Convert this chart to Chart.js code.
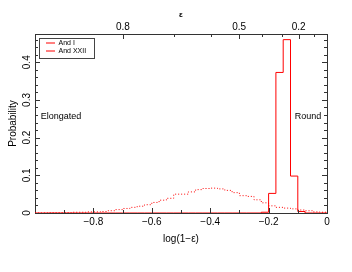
<!DOCTYPE html>
<html>
<head>
<meta charset="utf-8">
<script src="https://cdn.jsdelivr.net/npm/chart.js@4/dist/chart.umd.min.js"></script>
<style>
  html, body { margin: 0; padding: 0; background: #fff; }
  #wrap { width: 352px; height: 272px; }
</style>
</head>
<body>
<div id="wrap"><canvas id="ChartCanvas"></canvas></div>
<script>
// histogram bin edges, in log(1-e)
const binEdges = [-1, -0.975, -0.95, -0.925, -0.9, -0.875, -0.85, -0.825, -0.8, -0.775,
  -0.75, -0.725, -0.7, -0.675, -0.65, -0.625, -0.6, -0.575, -0.55, -0.525,
  -0.5, -0.475, -0.45, -0.425, -0.4, -0.375, -0.35, -0.325, -0.3, -0.275,
  -0.25, -0.225, -0.2, -0.175, -0.15, -0.125, -0.1, -0.075, -0.05, -0.025, 0]

// probability per bin
const andI = [0, 0, 0, 0, 0, 0, 0, 0, 0, 0,
  0, 0, 0, 0, 0, 0, 0, 0, 0, 0,
  0, 0, 0, 0, 0, 0, 0, 0, 0, 0,
  0, 0.002, 0.052, 0.373, 0.46, 0.098, 0.004, 0, 0, 0]
const andXXII = [0, 0, 0.001, 0.001, 0.001, 0.002, 0.002, 0.003, 0.003, 0.004,
  0.006, 0.009, 0.012, 0.015, 0.018, 0.022, 0.028, 0.034, 0.039, 0.05,
  0.05, 0.056, 0.062, 0.065, 0.066, 0.064, 0.06, 0.054, 0.046, 0.044,
  0.035, 0.027, 0.019, 0.015, 0.013, 0.011, 0.008, 0.006, 0.003, 0.002]

const seriesNames = ['And I', 'And XXII']

// axis ticks
const xMajor = [-0.8, -0.6, -0.4, -0.2, 0]
const xMinor = [-0.9, -0.7, -0.5, -0.3, -0.1]
const yMajor = [0, 0.1, 0.2, 0.3, 0.4]
const yMinor = [0.02, 0.04, 0.06, 0.08, 0.12, 0.14, 0.16, 0.18, 0.22, 0.24, 0.26, 0.28,
  0.32, 0.34, 0.36, 0.38, 0.42, 0.44, 0.46]
const epsMajor = [0.8, 0.5, 0.2]
const epsMinor = [0.9, 0.7, 0.6, 0.4, 0.3, 0.1]

const notes = [
  {text: 'Elongated', x: -0.98, y: 0.255, align: 'left'},
  {text: 'Round', x: -0.02, y: 0.255, align: 'right'}
]

const FONT = '"Liberation Sans", Arial, Helvetica, sans-serif'
Chart.defaults.font.family = FONT
Chart.defaults.color = '#000'

function steps(values) {
  const pts = values.map((v, i) => ({x: binEdges[i], y: v}))
  pts.push({x: binEdges[binEdges.length - 1], y: values[values.length - 1]})
  return pts
}

function fmt(v) {
  const s = String(Math.round(v * 100) / 100)
  return s.replace('-', '\u2212')
}

const epsPos = e => Math.log10(1 - e)

// inward tick marks on all four sides
const tickMarks = {
  id: 'tickMarks',
  afterDatasetsDraw(chart) {
    const {ctx, chartArea: a, scales} = chart
    ctx.save()
    ctx.strokeStyle = '#333'
    ctx.lineWidth = 1
    const line = (x1, y1, x2, y2) => { ctx.beginPath(); ctx.moveTo(x1, y1); ctx.lineTo(x2, y2); ctx.stroke() }
    xMajor.concat(xMinor).forEach(v => {
      const len = xMajor.includes(v) ? 5 : 3
      const px = Math.round(scales.x.getPixelForValue(v)) + 0.5
      line(px, a.bottom, px, a.bottom - len)
    })
    epsMajor.concat(epsMinor).forEach(e => {
      const len = epsMajor.includes(e) ? 5 : 3
      const px = Math.round(scales.x2.getPixelForValue(epsPos(e))) + 0.5
      line(px, a.top, px, a.top + len)
    })
    yMajor.concat(yMinor).forEach(v => {
      const len = yMajor.includes(v) ? 5 : 3
      const py = Math.round(scales.y.getPixelForValue(v)) + 0.5
      line(a.left, py, a.left + len, py)
      const py2 = Math.round(scales.y2.getPixelForValue(v)) + 0.5
      line(a.right, py2, a.right - len, py2)
    })
    ctx.restore()
  }
}

const annotations = {
  id: 'annotations',
  afterDatasetsDraw(chart) {
    const {ctx, scales: {x, y}} = chart
    ctx.save()
    ctx.font = '9px ' + FONT
    ctx.fillStyle = '#000'
    ctx.textBaseline = 'middle'
    notes.forEach(n => {
      ctx.textAlign = n.align
      ctx.fillText(n.text, x.getPixelForValue(n.x), y.getPixelForValue(n.y))
    })
    ctx.restore()
  }
}

// move legend into the top-left of the plot and frame it
const legendBox = {
  id: 'legendBox',
  afterLayout(chart) {
    const lg = chart.legend
    const a = chart.chartArea
    lg.left = a.left + 10
    lg.top = a.top + 4.5
    lg.right = a.right
    lg.bottom = a.bottom
  },
  afterDraw(chart) {
    const hb = chart.legend.legendHitBoxes
    if (!hb || !hb.length) return
    const l = Math.min(...hb.map(h => h.left)) - 7
    const r = Math.max(...hb.map(h => h.left + h.width)) + 8
    const t = Math.min(...hb.map(h => h.top)) - 1.5
    const b = Math.max(...hb.map(h => h.top + h.height)) + 3
    const ctx = chart.ctx
    ctx.save()
    ctx.strokeStyle = '#444'
    ctx.lineWidth = 1
    ctx.strokeRect(Math.round(l) + 0.5, Math.round(t) + 0.5, Math.round(r - l), Math.round(b - t))
    ctx.restore()
  }
}

let chart = null

function initChart() {
  const ctx = document.getElementById('ChartCanvas').getContext('2d')
  chart = new Chart(ctx, {
    type: 'line',
    data: {
      datasets: [{
        label: seriesNames[0],
        data: steps(andI),
        borderColor: 'rgb(255,0,0)',
        backgroundColor: 'rgb(255,0,0)',
        borderWidth: 1,
        pointRadius: 0,
        stepped: 'before',
        xAxisID: 'x', yAxisID: 'y'
      }, {
        label: seriesNames[1],
        data: steps(andXXII),
        borderColor: 'rgb(255,0,0)',
        backgroundColor: 'rgb(255,0,0)',
        borderWidth: 1,
        borderDash: [1, 2],
        pointRadius: 0,
        stepped: 'before',
        xAxisID: 'x', yAxisID: 'y'
      }]
    },
    options: {
      responsive: true,
      maintainAspectRatio: false,
      animation: false,
      events: [],
      layout: { padding: 0 },
      plugins: {
        tooltip: { enabled: false },
        legend: {
          position: 'chartArea',
          align: 'start',
          labels: {
            font: { size: 7 },
            color: '#000',
            usePointStyle: true,
            pointStyle: 'line',
            pointStyleWidth: 9,
            boxHeight: 7,
            padding: 1
          }
        }
      },
      scales: {
        x: {
          type: 'linear', position: 'bottom', min: -1, max: 0,
          afterBuildTicks: s => { s.ticks = xMajor.map(v => ({value: v})) },
          afterFit: s => { s.height = 59 },
          grid: { display: false, drawTicks: false },
          border: { display: true, color: '#333', width: 1 },
          ticks: { autoSkip: false, maxRotation: 0, padding: 3, font: { size: 10 }, callback: v => fmt(v) },
          title: { display: true, text: 'log(1\u2212\u03b5)', font: { size: 10 }, padding: { top: 0, bottom: 27 } }
        },
        x2: {
          type: 'linear', position: 'top', min: -1, max: 0,
          afterBuildTicks: s => { s.ticks = epsMajor.map(e => ({value: epsPos(e)})) },
          afterFit: s => { s.height = 34 },
          grid: { display: false, drawTicks: false },
          border: { display: true, color: '#333', width: 1 },
          ticks: { autoSkip: false, maxRotation: 0, padding: 1, font: { size: 10 }, callback: (v, i) => String(epsMajor[i]) },
          title: { display: true, text: '\u03b5', font: { size: 8, weight: 'bold' }, padding: { top: 10, bottom: 0 } }
        },
        y: {
          type: 'linear', position: 'left', min: 0, max: 0.475,
          afterBuildTicks: s => { s.ticks = yMajor.map(v => ({value: v})) },
          afterFit: s => { s.width = 35 },
          grid: { display: false, drawTicks: false },
          border: { display: true, color: '#333', width: 1 },
          ticks: { autoSkip: false, minRotation: 90, maxRotation: 90, crossAlign: 'center', padding: 1, font: { size: 10 }, callback: v => fmt(v) },
          title: { display: true, text: 'Probability', font: { size: 10 }, padding: { top: 7, bottom: 0 } }
        },
        y2: {
          type: 'linear', position: 'right', min: 0, max: 0.475,
          afterFit: s => { s.width = 25 },
          grid: { display: false, drawTicks: false },
          border: { display: true, color: '#333', width: 1 },
          ticks: { display: false }
        }
      }
    },
    plugins: [legendBox, tickMarks, annotations]
  })
}

initChart()
</script>
</body>
</html>
